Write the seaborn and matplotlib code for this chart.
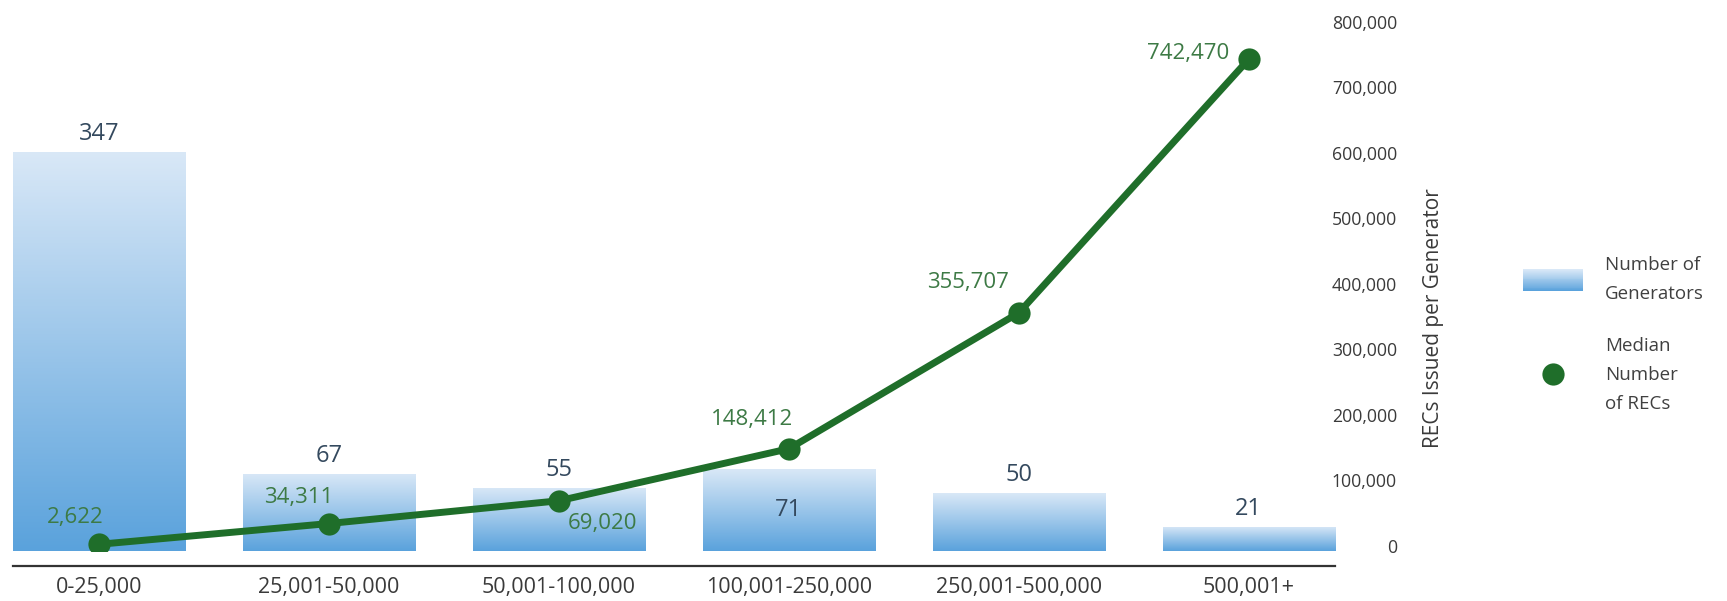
import numpy as np
import matplotlib
matplotlib.use("Agg")
import matplotlib.pyplot as plt
import seaborn as sns
from matplotlib.legend_handler import HandlerBase
from matplotlib.patches import Rectangle, Patch
from matplotlib.lines import Line2D
from matplotlib.colors import LinearSegmentedColormap

# data
size_bins = ["0-25,000", "25,001-50,000", "50,001-100,000",
             "100,001-250,000", "250,001-500,000", "500,001+"]
num_generators = [347, 67, 55, 71, 50, 21]
median_recs = [2622, 34311, 69020, 148412, 355707, 742470]
rec_ticks = [0, 100000, 200000, 300000, 400000, 500000, 600000, 700000, 800000]

sns.set_theme(style="white")
plt.rcParams["font.family"] = ["Open Sans", "DejaVu Sans"]

green = "#1f6e2a"
green_text = "#3d7a45"
bar_text = "#34495e"
grey_text = "#3a3a3a"
# bottom -> top of each bar
bar_cmap = LinearSegmentedColormap.from_list("bars", ["#5aa2dc", "#d9e8f7"])


class GradientHandler(HandlerBase):
    # legend swatch drawn as thin stacked strips
    def create_artists(self, legend, orig_handle, xdescent, ydescent,
                       width, height, fontsize, trans):
        n = 24
        strips = []
        for k in range(n):
            r = Rectangle((-xdescent, -ydescent + height * k / n), width,
                          height / n * 1.05, facecolor=bar_cmap(k / (n - 1)),
                          edgecolor="none", transform=trans)
            strips.append(r)
        return strips


fig = plt.figure(figsize=(17.27, 6.01), dpi=100)
ax = fig.add_axes([0.0075, 0.0832, 0.7655, 0.881])

sns.barplot(x=size_bins, y=num_generators, ax=ax, width=0.75, color="#8fbfe8")

# gradient fill, light at the top of every bar
grad = np.linspace(0, 1, 256).reshape(-1, 1)
for p in ax.patches:
    x0, y0 = p.get_x(), p.get_y()
    w, h = p.get_width(), p.get_height()
    p.set_facecolor("none")
    p.set_edgecolor("none")
    im = ax.imshow(grad, cmap=bar_cmap, origin="lower", aspect="auto",
                   extent=[x0, x0 + w, y0, y0 + h], zorder=1)
    im.set_clip_path(p)

for i, n in enumerate(num_generators):
    if i == 3:
        ax.text(i, n / 2, f"{n}", ha="center", va="center",
                fontsize=17, color=bar_text)
    else:
        ax.annotate(f"{n}", xy=(i, n), xytext=(0, 13), textcoords="offset points",
                    ha="center", va="center", fontsize=17, color=bar_text)

ax.set_xlim(-0.375, 5.375)
ax.set_ylim(0, 460)
ax.set_xlabel("")
ax.set_ylabel("")
ax.set_yticks([])
for s in ["left", "right", "top"]:
    ax.spines[s].set_visible(False)
ax.spines["bottom"].set_position(("outward", 10.8))
ax.spines["bottom"].set_color("#333333")
ax.spines["bottom"].set_linewidth(1.6)
ax.tick_params(axis="x", length=0, pad=8, labelsize=15.5, labelcolor=grey_text)

# secondary axis: median RECs
ax2 = ax.twinx()
sns.lineplot(x=np.arange(len(median_recs)), y=median_recs, ax=ax2, color=green,
             linewidth=5, marker="o", markersize=16, markeredgewidth=0, zorder=5)

label_offsets = [(-17, 19.5), (-21.6, 18.7), (31, -16.6),
                 (-26.6, 20.9), (-36.7, 21.6), (-44, 4.3)]
for i, (v, off) in enumerate(zip(median_recs, label_offsets)):
    ax2.annotate(f"{v:,}", xy=(i, v), xytext=off, textcoords="offset points",
                 ha="center", va="center", fontsize=16, color=green_text)

ax2.set_ylim(-7600, 800000)
ax2.set_yticks(rec_ticks)
ax2.set_yticklabels([f"{t:,}" for t in rec_ticks])
for lbl in ax2.get_yticklabels():
    lbl.set_horizontalalignment("right")
ax2.tick_params(axis="y", length=0, pad=44.6, labelsize=12.7, labelcolor=grey_text)
ax2.set_ylabel("")
for s in ax2.spines.values():
    s.set_visible(False)

fig.text(1433 / 1727, 1 - 318 / 601, "RECs Issued per Generator", rotation=90,
         ha="center", va="center", fontsize=15, color=grey_text)

handles = [Patch(label="Number of\nGenerators"),
           Line2D([], [], marker="o", color=green, linestyle="none",
                  markersize=16, markeredgewidth=0, label="Median\nNumber\nof RECs")]
leg = fig.legend(handles=handles, handler_map={Patch: GradientHandler()},
                 loc="upper left", bbox_to_anchor=(1523 / 1727, 1 - 256 / 601),
                 bbox_transform=fig.transFigure, frameon=False, fontsize=13.5,
                 handlelength=3.2, handleheight=1.4, handletextpad=1.17,
                 labelspacing=1.8, borderpad=0, borderaxespad=0)
for t in leg.get_texts():
    t.set_linespacing(1.8)
    t.set_color("#404040")

fig.savefig("out.png", dpi=100)
